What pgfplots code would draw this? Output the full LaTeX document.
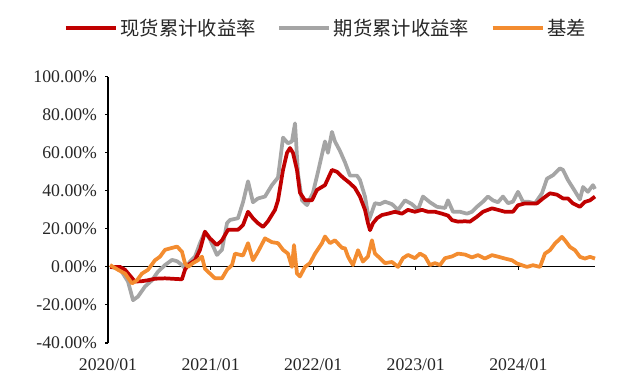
\documentclass[border=0pt]{standalone}
\usepackage{fontspec}
\setmainfont{Liberation Serif}
\newfontfamily\cjk{Noto Sans CJK SC}
\usepackage{pgfplots}
\pgfplotsset{compat=1.18}
\definecolor{cRed}{RGB}{192,0,0}
\definecolor{cGray}{RGB}{165,165,165}
\definecolor{cOrange}{RGB}{243,140,48}
\begin{document}
\begin{tikzpicture}
\begin{axis}[name=ax, scale only axis, width=365.25pt, height=199.7pt,
  xmin=0, xmax=4.747, ymin=-40, ymax=100, clip=false,
  axis y line*=left, axis x line*=bottom,
  x axis line style={draw=none},
  y axis line style={black, line width=0.8pt},
  xtick={0,1,2,3,4},
  xticklabels={2020/01,2021/01,2022/01,2023/01,2024/01},
  x tick style={draw=none},
  ytick={-40,-20,0,20,40,60,80,100},
  yticklabels={-40.00\%,-20.00\%,0.00\%,20.00\%,40.00\%,60.00\%,80.00\%,100.00\%},
  y tick style={black, line width=0.8pt},
  tick align=outside, major tick length=2.2pt,
  tick label style={font=\fontsize{13.3}{15}\selectfont, text=black!85},
  yticklabel style={xshift=-2.5pt},
  xticklabel style={yshift=-6pt},
  legend style={at={(0.448,1.183)}, anchor=center, draw=none, fill=none,
    legend columns=3, font=\fontsize{14.5}{16}\cjk, text=black!85,
    /tikz/every even column/.append style={column sep=14pt}},
  legend image code/.code={\draw[#1, line width=3pt] (0pt,0pt) -- (37.5pt,0pt);},
  every axis plot/.append style={line width=2.8pt, line join=round},
]
\addlegendimage{cRed}\addlegendentry{现货累计收益率}
\addlegendimage{cGray}\addlegendentry{期货累计收益率}
\addlegendimage{cOrange}\addlegendentry{基差}

% zero line and its ticks
\addplot[black, line width=0.8pt, forget plot] coordinates {(0,0) (4.747,0)};
\addplot[black, line width=0.8pt, ycomb, forget plot] coordinates {(1,-1.6) (2,-1.6) (3,-1.6) (4,-1.6)};

% futures cumulative return
\addplot[cGray, forget plot] coordinates {
(0.020,0) (0.117,-1) (0.195,-7.7) (0.244,-17.5) (0.292,-15.6) (0.361,-10.3) (0.429,-7) (0.487,-2.5)
(0.556,1) (0.624,3.7) (0.673,3) (0.721,1) (0.750,-0.7) (0.799,2.8) (0.848,5.4) (0.897,12.5)
(0.945,18.5) (0.994,14.5) (1.062,6.3) (1.111,9) (1.160,23) (1.189,24.7) (1.267,25.6) (1.316,34)
(1.365,45) (1.413,34) (1.462,36) (1.530,37) (1.598,43) (1.657,47) (1.706,68) (1.754,65)
(1.793,66) (1.823,75.5) (1.852,49) (1.891,35) (1.940,32.5) (1.998,39) (2.047,50) (2.115,66)
(2.144,60) (2.183,71) (2.212,66) (2.261,61) (2.310,55) (2.359,48) (2.427,48) (2.456,45.7)
(2.505,37) (2.544,24.6) (2.573,29) (2.602,33.5) (2.651,33) (2.700,34.3) (2.768,33) (2.827,30)
(2.895,35) (2.963,33) (3.021,30) (3.070,37) (3.138,34) (3.207,31.6) (3.285,31) (3.314,35)
(3.363,29) (3.431,29) (3.499,28) (3.548,29) (3.596,31.6) (3.655,34.3) (3.704,37) (3.752,35)
(3.801,34) (3.850,37) (3.899,33.5) (3.947,34.3) (3.996,39.5) (4.045,34.3) (4.094,34.3) (4.162,33.4)
(4.230,38.7) (4.279,46.4) (4.337,48.2) (4.405,51.8) (4.435,51) (4.483,45.7) (4.552,39.8) (4.600,35.5)
(4.630,42) (4.678,39.5) (4.727,43) (4.747,41)
};

% spot cumulative return
\addplot[cRed, forget plot] coordinates {
(0.020,0) (0.117,0) (0.166,-1.5) (0.263,-7.7) (0.331,-7.5) (0.390,-7) (0.458,-6.2) (0.556,-6)
(0.653,-6.3) (0.721,-6.5) (0.750,-1.5) (0.780,1) (0.848,3.5) (0.897,9) (0.945,18.5) (0.994,15)
(1.062,11.5) (1.111,14) (1.170,19.5) (1.267,19.5) (1.316,22) (1.365,29) (1.413,25.6) (1.462,23)
(1.511,21) (1.559,24) (1.628,30) (1.657,35) (1.706,51) (1.745,60) (1.774,62.5) (1.803,60)
(1.842,51) (1.871,39) (1.920,35) (1.988,35) (2.037,40.5) (2.115,43) (2.183,51) (2.232,50)
(2.290,47) (2.359,44) (2.407,41.5) (2.456,37) (2.505,30) (2.534,23) (2.554,19.3) (2.583,23)
(2.622,25.6) (2.671,27.3) (2.729,28) (2.797,29) (2.865,28) (2.924,30) (2.992,29) (3.060,30)
(3.119,29) (3.187,29) (3.255,28) (3.314,27) (3.353,24.6) (3.411,23.8) (3.480,24) (3.528,23.8)
(3.596,26.4) (3.655,29) (3.743,30.8) (3.801,30) (3.869,29) (3.947,29) (3.996,32.4) (4.064,33.4)
(4.133,33.4) (4.181,33.4) (4.240,36) (4.308,38.7) (4.376,38) (4.435,36) (4.483,36) (4.532,33.4)
(4.600,31.6) (4.649,34.2) (4.698,35) (4.747,37)
};

% basis
\addplot[cOrange, forget plot] coordinates {
(0.020,1) (0.097,-1.5) (0.166,-3.5) (0.234,-8.7) (0.283,-7) (0.331,-3.5) (0.390,-1.5) (0.458,3.5)
(0.507,5.4) (0.556,9) (0.624,10) (0.673,10.7) (0.721,8) (0.750,2) (0.780,0) (0.828,2)
(0.877,3.5) (0.916,5.4) (0.945,-1) (0.994,-3.5) (1.043,-6) (1.111,-6) (1.160,-1.5) (1.209,1)
(1.238,7) (1.316,6) (1.365,12.5) (1.413,3.5) (1.462,8) (1.530,15) (1.598,13) (1.657,12.5)
(1.706,9) (1.754,7) (1.793,0) (1.813,11.5) (1.842,-3.5) (1.871,-5) (1.920,0) (1.969,2)
(2.018,7) (2.086,12.5) (2.115,16) (2.164,12.5) (2.212,14) (2.281,10) (2.310,9.8) (2.339,5.5)
(2.359,3.5) (2.388,1) (2.437,8.8) (2.485,2.8) (2.534,5.5) (2.573,14) (2.602,7) (2.651,4.6)
(2.700,2) (2.768,2.6) (2.827,0) (2.875,4.6) (2.924,6.3) (2.992,4.6) (3.041,7) (3.090,5.5)
(3.138,1) (3.187,2) (3.236,1) (3.285,4.6) (3.353,5.5) (3.411,7) (3.480,6.5) (3.548,5)
(3.606,6.2) (3.674,4.4) (3.743,6.2) (3.801,5.4) (3.869,4.4) (3.938,3.5) (3.986,1.8) (4.035,0.9)
(4.084,0) (4.142,0.9) (4.211,0) (4.259,7) (4.308,8.8) (4.357,12.3) (4.425,15.8) (4.454,14)
(4.503,10.5) (4.552,8.8) (4.600,5.3) (4.649,4.4) (4.698,5.3) (4.747,4.4)
};
\end{axis}
\pgfresetboundingbox
\path[use as bounding box] (ax.south west) ++(-81pt,-33.75pt) rectangle ++(480pt,291pt);
\end{tikzpicture}
\end{document}
